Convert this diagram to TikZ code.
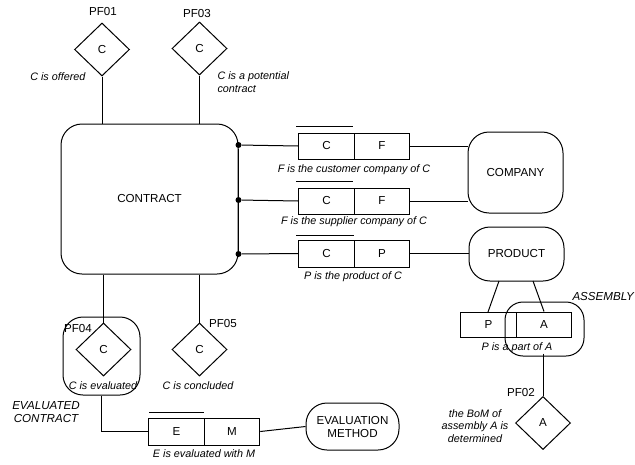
\documentclass[tikz,border=0pt]{standalone}
\usepackage{fontspec}
\setmainfont{Liberation Sans}
\usetikzlibrary{shapes.geometric}
\newcommand{\mainf}{\fontsize{11.6}{13}\selectfont}
\newcommand{\lblf}{\fontsize{10.8}{12.8}\selectfont\itshape}
\begin{document}
\begin{tikzpicture}[x=1pt,y=-1pt,line width=1pt,
  ent/.style={draw,rounded corners=21pt,font=\mainf,align=center,inner sep=0pt},
  dia/.style={draw,diamond,minimum width=55pt,minimum height=53pt,inner sep=0pt,font=\mainf},
  cell/.style={draw,minimum width=55.5pt,minimum height=26pt,inner sep=0pt,font=\mainf},
  lbl/.style={font=\lblf,inner sep=0pt,align=center},
  tag/.style={font=\mainf,inner sep=0pt},
  itag/.style={font=\mainf\itshape,inner sep=0pt,align=center},
  dot/.style={circle,fill,inner sep=0pt,minimum size=6pt}]
\useasboundingbox (0,0) rectangle (635,464);

% entities
\node[ent,minimum width=177pt,minimum height=150pt] (contract) at (149.5,199) {CONTRACT};
\node[ent,minimum width=95pt,minimum height=81pt] (company) at (515.5,172.5) {COMPANY};
\node[ent,minimum width=95pt,minimum height=54pt] (product) at (516.5,254) {PRODUCT};
\node[ent,minimum width=93pt,minimum height=47pt] (evm) at (352.5,426.5) {EVALUATION\\METHOD};

% diamonds
\node[dia] (pf01) at (102,49.5) {C};
\node[dia] (pf03) at (199.5,48.5) {C};
\node[dia] (pf04) at (103.5,349.5) {C};
\node[dia] (pf05) at (199.5,349.5) {C};
\node[dia] (pf02) at (543,423) {A};

% objectified boxes
\node[draw,rounded corners=20pt,minimum width=77pt,minimum height=78pt] (evalc) at (101.5,356) {};
\node[draw,rounded corners=18pt,minimum width=79pt,minimum height=54pt] (assembly) at (544.5,329) {};

% fact type cells
\node[cell] (c1) at (326.5,146) {C};
\node[cell] (f1) at (382,146) {F};
\node[cell] (c2) at (326.5,201) {C};
\node[cell] (f2) at (382,201) {F};
\node[cell,minimum height=27pt] (c3) at (326.5,253.5) {C};
\node[cell,minimum height=27pt] (p3) at (382,253.5) {P};
\node[cell,minimum height=25pt] (pp) at (488.5,324.5) {P};
\node[cell,minimum height=25pt] (aa) at (544,324.5) {A};
\node[cell,minimum height=27pt] (ee) at (176.5,431.5) {E};
\node[cell,minimum height=27pt] (mm) at (232,431.5) {M};

% uniqueness bars
\draw ([xshift=-2pt,yshift=6pt]c1.north west) -- ([xshift=-2pt,yshift=6pt]c1.north east);
\draw ([xshift=-2pt,yshift=6pt]c2.north west) -- ([xshift=-2pt,yshift=6pt]c2.north east);
\draw ([xshift=-2pt,yshift=4pt]c3.north west) -- ([xshift=-1pt,yshift=4pt]c3.north east);
\draw ([xshift=1pt,yshift=5pt]ee.north west) -- ([xshift=-1pt,yshift=5pt]ee.north east);

% dots on contract
\node[dot] (d1) at (238.5,145) {};
\node[dot] (d2) at (238.5,200) {};
\node[dot] (d3) at (238.5,254) {};
\draw (d1) -- (d3);
\draw (d1) -- (c1.west);
\draw (d2) -- (c2.west);
\draw (d3) -- (c3.west);
\draw (f1.east) -- (company.west |- f1.east);
\draw (f2.east) -- (company.west |- f2.east);
\draw (p3.east) -- (product.west |- p3.east);

% diamonds to contract
\draw (pf01.south) -- (pf01.south |- contract.north);
\draw (pf03.south) -- (pf03.south |- contract.north);
\draw (pf04.north |- contract.south) -- (pf04.north);
\draw (pf05.north |- contract.south) -- (pf05.north);

% product to part-of
\coordinate (pr1) at (499,281);
\coordinate (pr2) at (533,281);
\coordinate (pp1) at (488,312);
\draw (pr1) -- (pp1);
\draw (pr2) -- (aa.north);

% evaluated contract to E/M
\coordinate (bend) at (evalc.south |- ee.west);
\draw (evalc.south) -- (bend) -- (ee.west);
\draw (mm.east) -- (evm.west);

% labels
\node[tag] (t01) at (103,12) {PF01};
\node[tag] (t03) at (197,14) {PF03};
\node[tag] (t04) at (78,329) {PF04};
\node[tag] (t05) at (223,324) {PF05};
\node[tag] (t02) at (521,393) {PF02};
\node[lbl,anchor=east] (l01) at (86,77) {C is offered};
\node[lbl,anchor=north west,align=left] (l03) at (217,71.5) {C is a potential\\contract};
\node[lbl] (l04) at (103,386) {C is evaluated};
\node[lbl] (l05) at (198,386) {C is concluded};
\node[lbl] (lcf1) at (354,169.5) {F is the customer company of C};
\node[lbl] (lcf2) at (354,222) {F is the supplier company of C};
\node[lbl] (lcp) at (353,277) {P is the product of C};
\node[lbl] (lpa) at (517,348) {P is a part of A};
\node[lbl] (lem) at (204,454) {E is evaluated with M};
\node[lbl] (l02) at (475,426) {the BoM of\\assembly A is\\determined};
\node[itag,anchor=west] (lass) at (572,297) {ASSEMBLY};
\node[itag] (levc) at (46,412) {EVALUATED\\CONTRACT};

% assembly to PF02
\draw (pf02.north |- lpa.south) -- (pf02.north);
\end{tikzpicture}
\end{document}
